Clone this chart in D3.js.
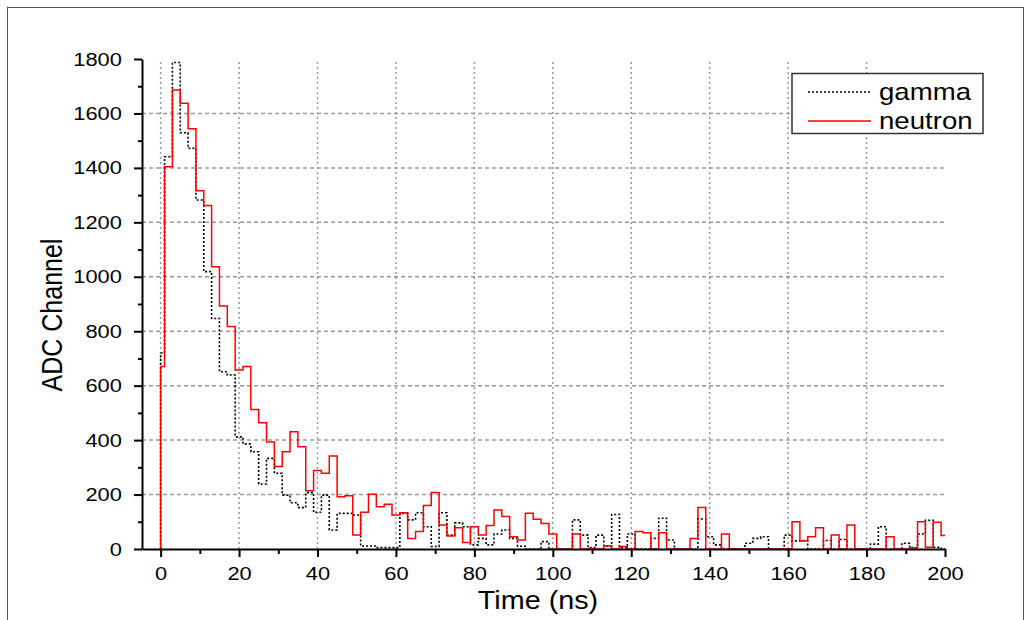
<!DOCTYPE html>
<html>
<head>
<meta charset="utf-8">
<script src="https://cdn.jsdelivr.net/npm/d3@7"></script>
<style>
  body { margin: 0; background: #fff; }
  text { font-family: Arial, "Liberation Sans", sans-serif; fill: #000; }
</style>
</head>
<body>
<svg id="chart" width="1030" height="620"></svg>
<script>
// bin edges in ns (first bin 0-1, then 2 ns wide, last one cut at 200)
const binEdges = [0, 1, 3, 5, 7, 9, 11, 13, 15, 17, 19, 21, 23, 25, 27, 29, 31, 33, 35, 37, 39,
  41, 43, 45, 47, 49, 51, 53, 55, 57, 59, 61, 63, 65, 67, 69, 71, 73, 75, 77, 79,
  81, 83, 85, 87, 89, 91, 93, 95, 97, 99, 101, 103, 105, 107, 109, 111, 113, 115, 117, 119,
  121, 123, 125, 127, 129, 131, 133, 135, 137, 139, 141, 143, 145, 147, 149, 151, 153, 155, 157, 159,
  161, 163, 165, 167, 169, 171, 173, 175, 177, 179, 181, 183, 185, 187, 189, 191, 193, 195, 197, 199, 200];

const gamma = [720,
  1441, 1787, 1529, 1472, 1282, 1019, 847, 651, 639, 412,
  386, 357, 239, 333, 278, 198, 170, 152, 207, 135,
  198, 70, 131, 131, 125, 11, 11, 5, 5, 5,
  131, 107, 133, 82, 9, 133, 51, 96, 82, 15,
  39, 15, 55, 70, 39, 10, 0, 0, 27, 0,
  0, 0, 107, 51, 5, 51, 10, 127, 5, 55,
  0, 0, 39, 113, 33, 0, 0, 0, 110, 45,
  15, 0, 0, 0, 21, 39, 45, 0, 0, 51,
  30, 31, 0, 0, 31, 0, 35, 0, 0, 0,
  18, 82, 0, 0, 21, 5, 55, 105, 6, 0];

const neutron = [670,
  1404, 1686, 1637, 1544, 1316, 1262, 1037, 893, 817, 658,
  670, 512, 464, 393, 303, 357, 431, 376, 214, 288,
  278, 342, 192, 196, 51, 135, 201, 155, 164, 125,
  133, 39, 64, 160, 208, 88, 48, 78, 24, 82,
  51, 86, 143, 119, 45, 33, 131, 109, 94, 55,
  0, 0, 55, 0, 0, 0, 12, 0, 9, 0,
  64, 60, 0, 60, 0, 0, 0, 39, 152, 0,
  0, 55, 0, 0, 0, 0, 0, 0, 0, 0,
  100, 29, 45, 78, 0, 51, 0, 88, 0, 0,
  0, 0, 45, 0, 0, 5, 100, 6, 98, 50];

const xTicks = [0, 20, 40, 60, 80, 100, 120, 140, 160, 180, 200];
const xMinor = [10, 30, 50, 70, 90, 110, 130, 150, 170, 190];
const yTicks = [0, 200, 400, 600, 800, 1000, 1200, 1400, 1600, 1800];
const yMinor = [100, 300, 500, 700, 900, 1100, 1300, 1500, 1700];
const seriesNames = ["gamma", "neutron"];

const svg = d3.select("#chart");
const sx = 1.15; // the original is stretched sideways a bit

// outer frame
svg.append("rect").attr("x", 7.5).attr("y", 7.5).attr("width", 1016).attr("height", 640)
  .attr("fill", "none").attr("stroke", "#555").attr("stroke-width", 1);

const x = d3.scaleLinear().domain([-4.75, 200]).range([142, 945]);
const y = d3.scaleLinear().domain([0, 1800]).range([549, 59]);

// grid
svg.append("g").selectAll("line").data(yTicks.filter(d => d > 0 && d < 1800)).join("line")
  .attr("x1", x.range()[0]).attr("x2", x.range()[1])
  .attr("y1", d => y(d)).attr("y2", d => y(d))
  .attr("stroke", "#9a9a9a").attr("stroke-width", 1.5).attr("stroke-dasharray", "4,3");
svg.append("g").selectAll("line").data(xTicks.filter(d => d < 200)).join("line")
  .attr("x1", d => x(d)).attr("x2", d => x(d))
  .attr("y1", y(0)).attr("y2", y(1800))
  .attr("stroke", "#9a9a9a").attr("stroke-width", 1.5).attr("stroke-dasharray", "2,3");

// histogram steps
function steps(vals) {
  const pts = [[binEdges[0], 0]];
  vals.forEach((v, i) => pts.push([binEdges[i], v]));
  pts.push([binEdges[binEdges.length - 1], vals[vals.length - 1]]);
  return pts;
}
const line = d3.line().x(d => x(d[0])).y(d => y(d[1])).curve(d3.curveStepAfter);

svg.append("path").datum(steps(gamma)).attr("d", line)
  .attr("fill", "none").attr("stroke", "#000").attr("stroke-width", 1.6)
  .attr("stroke-dasharray", "2,2");
svg.append("path").datum(steps(neutron)).attr("d", line)
  .attr("fill", "none").attr("stroke", "#ff0000").attr("stroke-width", 1.5);

// axes
const fmt = d3.format("d");
const xAxis = svg.append("g").attr("transform", `translate(0,${y(0)})`)
  .call(d3.axisBottom(x).tickValues(xTicks).tickFormat(fmt).tickSize(8).tickSizeOuter(0).tickPadding(10));
svg.append("g").attr("transform", `translate(0,${y(0)})`)
  .call(d3.axisBottom(x).tickValues(xMinor).tickSize(5).tickFormat("").tickSizeOuter(0))
  .select(".domain").remove();
const yAxis = svg.append("g").attr("transform", `translate(${x.range()[0]},0)`)
  .call(d3.axisLeft(y).tickValues(yTicks).tickFormat(fmt).tickSize(8).tickSizeOuter(0).tickPadding(9.5));
svg.append("g").attr("transform", `translate(${x.range()[0]},0)`)
  .call(d3.axisLeft(y).tickValues(yMinor).tickSize(4).tickFormat("").tickSizeOuter(0))
  .select(".domain").remove();

svg.selectAll(".domain").attr("stroke", "#000").attr("stroke-width", 2);
svg.selectAll(".tick line").attr("stroke", "#000").attr("stroke-width", 2);
[xAxis, yAxis].forEach(a => a.selectAll("text")
  .attr("font-size", 19).attr("font-family", "Arial, 'Liberation Sans', sans-serif")
  .attr("fill", "#000").attr("transform", `scale(${sx},1)`));

// axis titles
svg.append("text").attr("transform", `translate(538,609) scale(${sx},1)`)
  .attr("text-anchor", "middle").attr("font-size", 25).text("Time (ns)");
svg.append("text").attr("transform", `translate(62,315) scale(${sx},1) rotate(-90)`)
  .attr("text-anchor", "middle").attr("font-size", 25).text("ADC Channel");

// legend
const lg = svg.append("g");
lg.append("rect").attr("x", 792).attr("y", 73.5).attr("width", 191).attr("height", 60)
  .attr("fill", "#fff").attr("stroke", "#333").attr("stroke-width", 1.5);
const rowsY = [92, 121];
lg.append("line").attr("x1", 808).attr("x2", 871).attr("y1", rowsY[0]).attr("y2", rowsY[0])
  .attr("stroke", "#000").attr("stroke-width", 1.6).attr("stroke-dasharray", "2,2");
lg.append("line").attr("x1", 808).attr("x2", 871).attr("y1", rowsY[1]).attr("y2", rowsY[1])
  .attr("stroke", "#ff0000").attr("stroke-width", 1.5);
seriesNames.forEach((n, i) => {
  lg.append("text").attr("transform", `translate(879,${rowsY[i] + 8}) scale(${sx},1)`)
    .attr("font-size", 24).text(n);
});
</script>
</body>
</html>
